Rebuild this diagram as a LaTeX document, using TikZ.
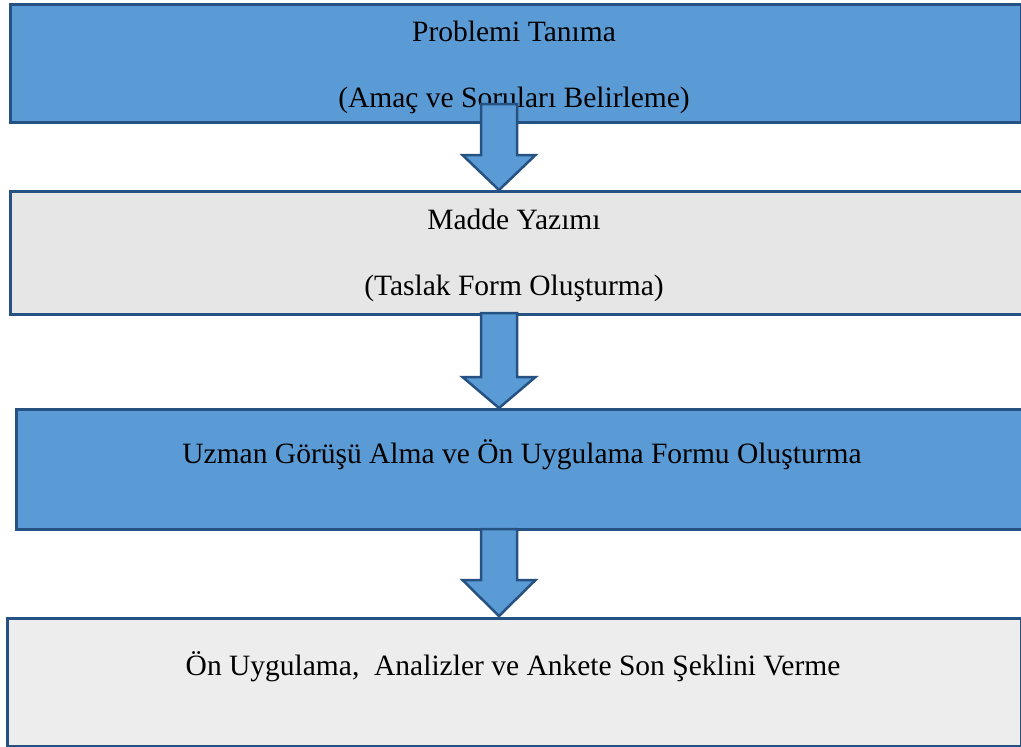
\documentclass[tikz,border=0pt]{standalone}
\usepackage{fontspec}
\setmainfont{Liberation Serif}
\usetikzlibrary{calc}
\definecolor{boxblue}{HTML}{5B9BD5}
\definecolor{edgeblue}{RGB}{37,82,130}
\definecolor{greyA}{HTML}{E6E6E6}
\definecolor{greyB}{HTML}{EDEDED}
\tikzset{
  stagebox/.style={draw=edgeblue, line width=3pt, inner sep=0pt, anchor=north west},
  label/.style={font=\fontsize{29.5}{35}\selectfont, inner sep=0pt, anchor=base, text=black},
  barrow/.style={draw=edgeblue, fill=boxblue, line width=2.5pt, line join=miter}
}
\newcommand{\blockarrowdraw}[3]{% top y, head y, tip y
  \draw[barrow] (499-18,-#1) -- (499-18,-#2) -- (499-36.5,-#2) -- (499,-#3)
    -- (499+36.5,-#2) -- (499+18,-#2) -- (499+18,-#1) -- cycle;}
\begin{document}
\begin{tikzpicture}[x=1pt,y=1pt]
\useasboundingbox (0,0) rectangle (1021,-747);
% boxes
\node[stagebox, fill=boxblue, minimum width=1011pt, minimum height=118pt] (b1) at (9,-3) {};
\node[stagebox, fill=greyA, minimum width=1030pt, minimum height=123pt] (b2) at (9,-190) {};
\node[stagebox, fill=boxblue, minimum width=1025pt, minimum height=120pt] (b3) at (15,-408) {};
\node[stagebox, fill=greyB, minimum width=1014pt, minimum height=128pt] (b4) at (6,-617) {};
% texts
\node[label] (t1a) at (514,-41) {Problemi Tanıma};
\node[label] (t1b) at (514,-107) {(Amaç ve Soruları Belirleme)};
\node[label] (t2a) at (514,-229) {Madde Yazımı};
\node[label] (t2b) at (514,-295) {(Taslak Form Oluşturma)};
\node[label] (t3) at (522,-463) {Uzman Görüşü Alma ve Ön Uygulama Formu Oluşturma};
\node[label] (t4) at (513,-675) {Ön Uygulama,~ Analizler ve Ankete Son Şeklini Verme};
% block arrows
\blockarrowdraw{104}{155}{190}
\blockarrowdraw{313}{377}{408}
\blockarrowdraw{529}{580}{616}
\end{tikzpicture}
\end{document}
